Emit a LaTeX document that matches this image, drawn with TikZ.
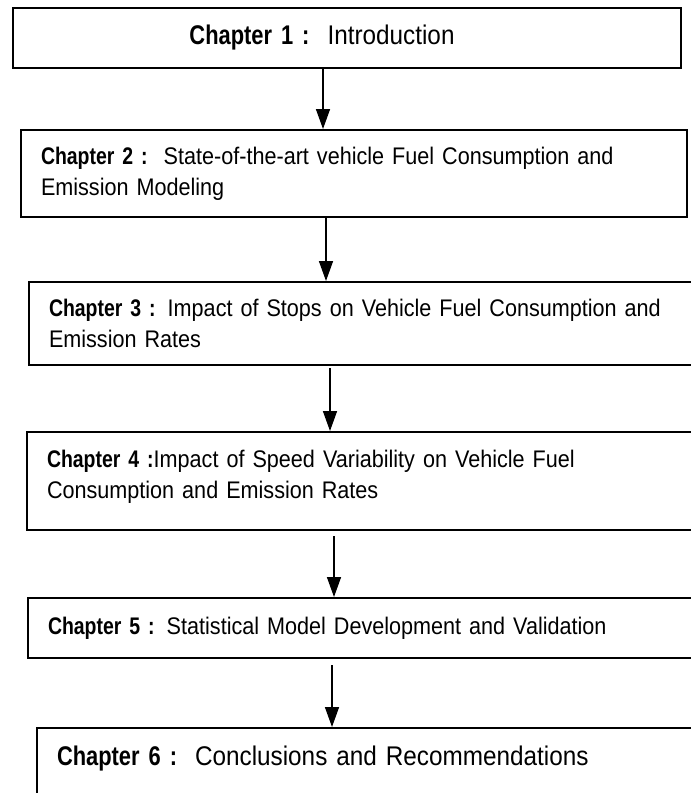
\documentclass[tikz,border=0pt]{standalone}
\usepackage{fontspec}
\setmainfont{Liberation Sans}[FakeStretch=0.9]
\newfontfamily\chapfont{Liberation Sans}[FakeStretch=0.81]
\newcommand{\chapterLabel}[1]{{\chapfont\bfseries Chapter #1 :}}
\usetikzlibrary{arrows.meta}
\tikzset{%
  >={Triangle[width=14pt,length=20pt]},
  % Specifications for style of nodes:
        base/.style = {rectangle, draw=black, line width=2pt,
                       anchor=north west, inner xsep=20pt, inner ysep=0pt,
                       font=\fontsize{24}{31}\selectfont},
   centerBox/.style = {base, align=center},
     leftBox/.style = {base, align=left},
    bigText/.style = {font=\fontsize{27}{33}\selectfont},
   flowArrow/.style = {->, line width=1.5pt},
}

\begin{document}
\begin{tikzpicture}[x=1pt, y=1pt]
  \useasboundingbox (0,0) rectangle (691,-793);
  \clip (0,0) rectangle (691,-793);
  % Specification of nodes (position, etc.)
  \node (intro)  [centerBox, bigText, minimum width=668pt, minimum height=60pt,
                  text width=628pt] at (12,-7)
                  {\chapterLabel{1}\ \ Introduction\hspace*{50pt}\mbox{}};
  \node (review) [leftBox, minimum width=666pt, minimum height=87pt,
                  text width=626pt] at (20,-129)
                  {\chapterLabel{2}\ \ State-of-the-art vehicle Fuel Consumption and\\
                   Emission Modeling};
  \node (stops)  [leftBox, minimum width=680pt, minimum height=83pt,
                  text width=640pt] at (28,-281)
                  {\chapterLabel{3} Impact of Stops on Vehicle Fuel Consumption and\\
                   Emission Rates};
  \node (speed)  [leftBox, minimum width=680pt, minimum height=98pt,
                  text width=640pt, text depth=44pt] at (26,-431)
                  {\chapterLabel{4}Impact of Speed Variability on Vehicle Fuel\\
                   Consumption and Emission Rates};
  \node (model)  [leftBox, minimum width=680pt, minimum height=60pt,
                  text width=640pt] at (27,-597)
                  {\chapterLabel{5} Statistical Model Development and Validation};
  \node (concl)  [leftBox, bigText, minimum width=680pt, minimum height=100pt,
                  text width=640pt, text depth=44pt] at (36,-727)
                  {\chapterLabel{6}\ \ Conclusions and Recommendations};
  % Specification of arrows between the chapters
  \draw[flowArrow] (intro.south -| 323,0)  -- (review.north -| 323,0);
  \draw[flowArrow] (review.south -| 326,0) -- (stops.north -| 326,0);
  \draw[flowArrow, shorten <=2pt] (stops.south -| 330,0) -- (speed.north -| 330,0);
  \draw[flowArrow, shorten <=5pt] (speed.south -| 334,0) -- (model.north -| 334,0);
  \draw[flowArrow, shorten <=6pt] (model.south -| 332,0) -- (concl.north -| 332,0);
\end{tikzpicture}
\end{document}
